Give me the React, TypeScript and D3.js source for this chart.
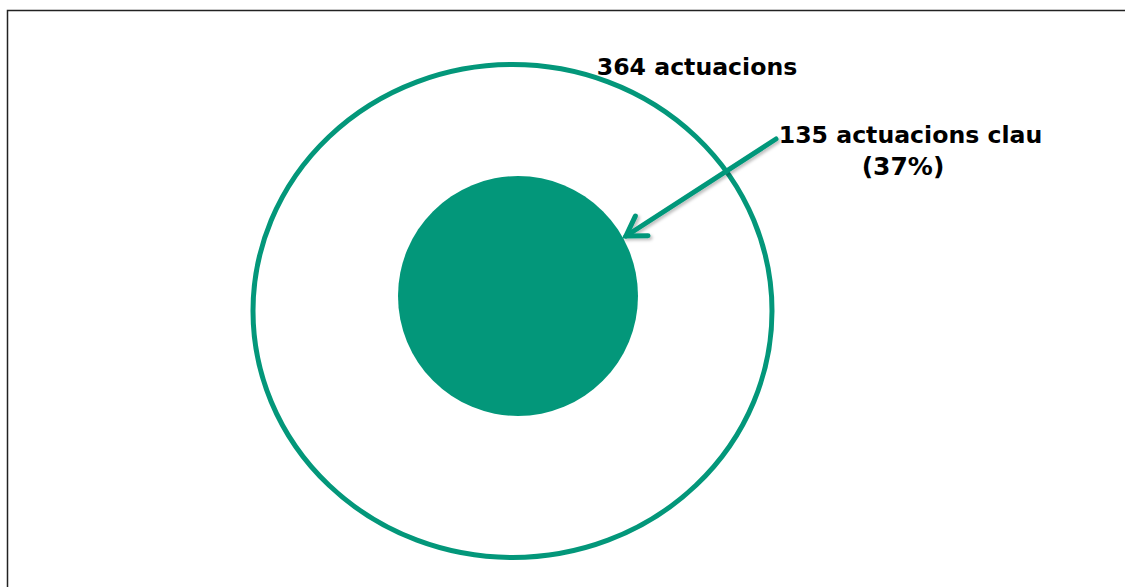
import React from "react";
import * as d3 from "d3";

const totalLabel = "364 actuacions";
const keyLabelLines = ["135 actuacions clau", "(37%)"];
const keyLabelX = [910.5, 903];
const values = [364, 135];
const names = ["total", "clau"];

const W = 1125;
const H = 587;
const GREEN = "#03977A";

export default function App() {
  // radius scale (diagram-style, not area-proportional as in original)
  const rScale = d3.scaleLinear().domain([135, 364]).range([120, 253.5]);
  const outerC = { x: 512.5, y: 311 };
  const innerC = { x: 518, y: 296 };
  const outerR = rScale(values[0]);
  const innerR = rScale(values[1]);

  const start: [number, number] = [776, 139];
  const tip: [number, number] = [626, 236];
  const dx = start[0] - tip[0];
  const dy = start[1] - tip[1];
  const len = Math.hypot(dx, dy);
  const ux = dx / len, uy = dy / len;
  const armLen = 22;
  const ang = (32 * Math.PI) / 180;
  const rot = (a: number): [number, number] => [
    tip[0] + armLen * (ux * Math.cos(a) - uy * Math.sin(a)),
    tip[1] + armLen * (ux * Math.sin(a) + uy * Math.cos(a)),
  ];
  const arm1 = rot(ang);
  const arm2 = rot(-ang);
  const line = d3.line();
  const shaft = line([start, tip])!;
  const head = line([arm1, tip, arm2])!;

  return (
    <svg
      width={W}
      height={H}
      style={{ position: "fixed", left: 0, top: 0, background: "#fff" }}
      fontFamily="'DejaVu Sans', Verdana, sans-serif"
    >
      <defs>
        <filter id="sh" x="-20%" y="-20%" width="140%" height="140%">
          <feDropShadow dx="2" dy="2" stdDeviation="1.5" floodColor="#000" floodOpacity="0.25" />
        </filter>
      </defs>
      <rect width={W} height={H} fill="#fff" />
      <path d={`M7.5,${H} V10.5 H${W}`} fill="none" stroke="#222" strokeWidth={1.5} />
      <ellipse
        cx={outerC.x}
        cy={outerC.y}
        rx={outerR + 6}
        ry={outerR - 7}
        fill="none"
        stroke={GREEN}
        strokeWidth={5}
      />
      <circle cx={innerC.x} cy={innerC.y} r={innerR} fill={GREEN} />
      <g filter="url(#sh)">
        <path d={shaft} stroke={GREEN} strokeWidth={5} fill="none" strokeLinecap="round" />
        <path d={head} stroke={GREEN} strokeWidth={5} fill="none" strokeLinecap="round" strokeLinejoin="miter" />
      </g>
      <text x={697} y={75} textAnchor="middle" fontWeight="bold" fontSize={23.6} fill="#000">
        {totalLabel}
      </text>
      <text textAnchor="middle" fontWeight="bold" fontSize={23.6} fill="#000">
        {keyLabelLines.map((t, i) => (
          <tspan key={names[0] + i} x={keyLabelX[i]} y={143 + i * 32} fontSize={i === 1 ? 25 : 23.6}>
            {t}
          </tspan>
        ))}
      </text>
    </svg>
  );
}
